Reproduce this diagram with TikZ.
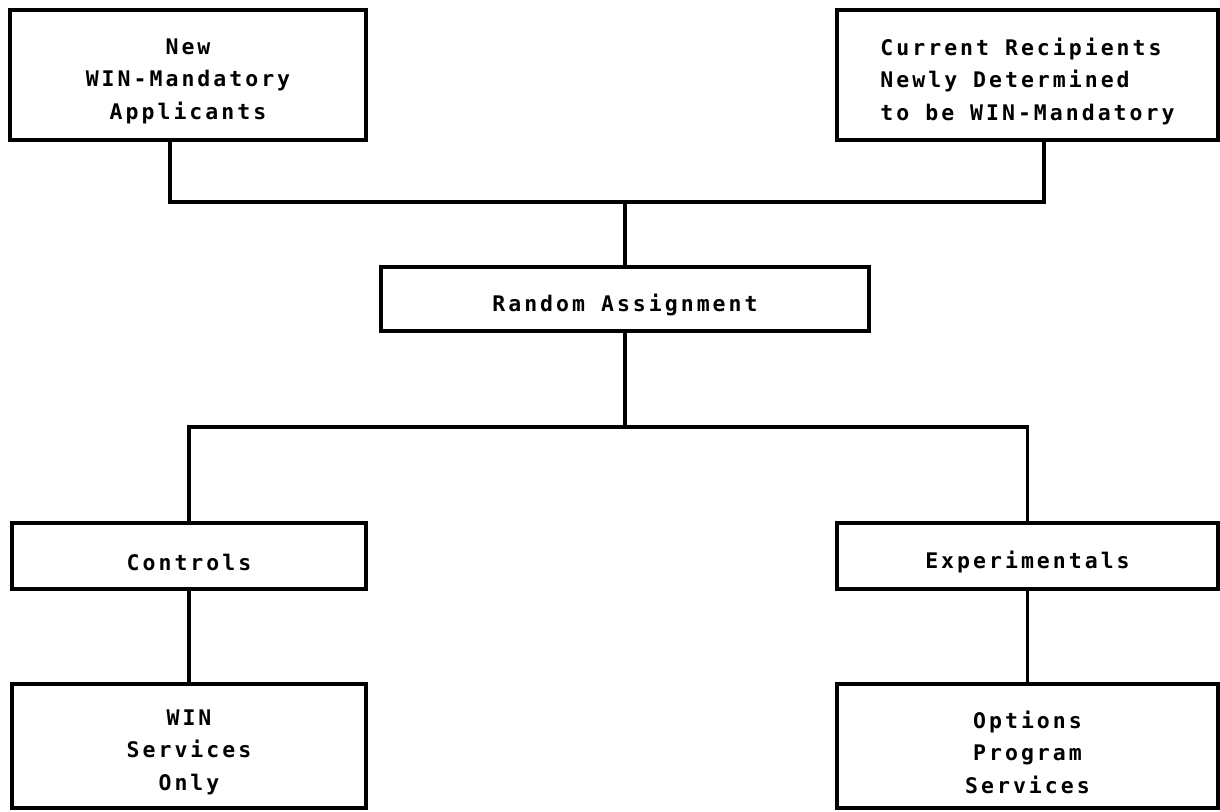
\documentclass[tikz,border=0pt]{standalone}
\usepackage{fontspec}
\newfontfamily\boxfont[LetterSpace=14]{DejaVu Sans Mono}
\tikzset{
  x=1pt, y=-1pt,
  every path/.style={line width=3.4pt, line join=miter, line cap=rect},
  boxnode/.style={draw, rectangle, inner sep=0pt},
  boxtext/.style={inner sep=0pt, align=center, yshift=-6pt,
    font=\boxfont\bfseries\fontsize{21.5}{32.5}\selectfont},
}
\begin{document}
\begin{tikzpicture}
\fill[white] (0,0) rectangle (1220,811);
\useasboundingbox (0,0) rectangle (1220,811);

\node[boxnode, minimum width=356pt, minimum height=130pt] (n1) at (188,75) {};
\node[boxnode, minimum width=381pt, minimum height=130pt] (n2) at (1027.5,75) {};
\node[boxnode, minimum width=488pt, minimum height=64pt] (ra) at (625,299) {};
\node[boxnode, minimum width=354pt, minimum height=66pt] (ctl) at (189,556) {};
\node[boxnode, minimum width=381pt, minimum height=66pt] (exp) at (1027.5,556) {};
\node[boxnode, minimum width=354pt, minimum height=124pt] (win) at (189,746) {};
\node[boxnode, minimum width=381pt, minimum height=124pt] (opt) at (1027.5,746) {};

\node[boxtext] (n1t) at (n1.center) {New\\WIN-Mandatory\\Applicants};
\node[boxtext, align=left] (n2t) at (n2.center) {Current Recipients\\Newly Determined\\to be WIN-Mandatory};
\node[boxtext] (rat) at (ra.center) {Random Assignment};
\node[boxtext] (ctlt) at (ctl.center) {Controls};
\node[boxtext] (expt) at (exp.center) {Experimentals};
\node[boxtext] (wint) at (win.center) {WIN\\Services\\Only};
\node[boxtext] (optt) at (opt.center) {Options\\Program\\Services};

\coordinate (a1) at (170,202);
\coordinate (a2) at (1044,202);
\coordinate (b) at (625,427);

\draw (a1 |- n1.south) -- (a1) -- (a2) -- (a2 |- n2.south);
\draw (ra.north |- a1) -- (ra.north);
\draw (ra.south) -- (b);
\draw (ctl.north) |- (b) -| (exp.north);
\draw (ctl.south) -- (win.north);
\draw (exp.south) -- (opt.north);
\end{tikzpicture}
\end{document}
